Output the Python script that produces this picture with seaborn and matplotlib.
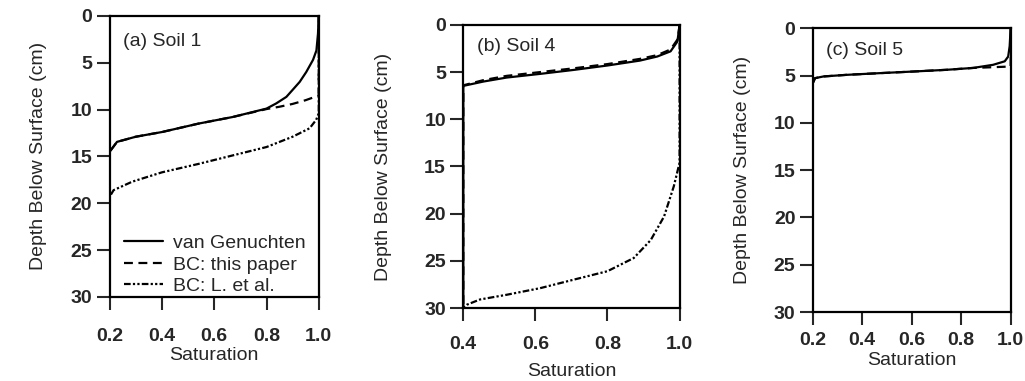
import numpy as np
import pandas as pd
import seaborn as sns
import matplotlib.pyplot as plt

# Soil 1
s1_vg_sat = [1.0, 0.997, 0.991, 0.978, 0.952, 0.927, 0.9, 0.876, 0.837, 0.8, 0.67, 0.54, 0.4, 0.3, 0.228, 0.2, 0.2]
s1_vg_depth = [0, 1.9, 3.7, 4.7, 6.0, 7.05, 7.9, 8.65, 9.35, 9.9, 10.8, 11.5, 12.4, 12.9, 13.45, 14.5, 30]
s1_bc_sat = [1.0, 1.0, 0.95, 0.9, 0.85, 0.8, 0.67, 0.54, 0.4, 0.3, 0.228, 0.2, 0.2]
s1_bc_depth = [0, 8.5, 9.0, 9.4, 9.7, 9.95, 10.8, 11.5, 12.4, 12.9, 13.45, 14.5, 30]
s1_le_sat = [1.0, 1.0, 0.99, 0.965, 0.9, 0.8, 0.67, 0.54, 0.4, 0.286, 0.215, 0.2, 0.2]
s1_le_depth = [0, 10.4, 11.1, 12.0, 12.9, 14.0, 14.9, 15.8, 16.7, 17.7, 18.6, 19.3, 30]

# Soil 4
s4_vg_sat = [1.0, 0.994, 0.975, 0.938, 0.89, 0.8, 0.706, 0.613, 0.52, 0.456, 0.4, 0.4]
s4_vg_depth = [0, 1.76, 2.8, 3.35, 3.78, 4.3, 4.77, 5.19, 5.58, 6.0, 6.46, 30]
s4_bc_sat = [1.0, 0.995, 0.975, 0.938, 0.89, 0.8, 0.706, 0.613, 0.52, 0.456, 0.4, 0.4]
s4_bc_depth = [0, 1.5, 2.6, 3.2, 3.6, 4.15, 4.6, 5.0, 5.4, 5.85, 6.4, 30]
s4_le_sat = [1.0, 1.0, 0.984, 0.957, 0.92, 0.873, 0.8, 0.706, 0.613, 0.52, 0.446, 0.41, 0.4]
s4_le_depth = [0, 14.6, 17.1, 20.3, 22.8, 24.7, 26.1, 27.0, 27.9, 28.6, 29.1, 29.65, 30]

# Soil 5
s5_vg_sat = [1.0, 0.996, 0.99, 0.976, 0.929, 0.848, 0.74, 0.606, 0.472, 0.337, 0.243, 0.209, 0.2, 0.2]
s5_vg_depth = [0, 1.9, 3.0, 3.5, 3.87, 4.2, 4.4, 4.58, 4.75, 4.93, 5.1, 5.28, 5.8, 30]
s5_bc_sat = [1.0, 1.0, 0.95, 0.9, 0.848, 0.74, 0.606, 0.472, 0.337, 0.243, 0.209, 0.2, 0.2]
s5_bc_depth = [0, 4.05, 4.1, 4.15, 4.2, 4.4, 4.58, 4.75, 4.93, 5.1, 5.28, 5.8, 30]

labels = ['van Genuchten', 'BC: this paper', 'BC: L. et al.']
styles = ['-', (0, (4, 2.5)), (0, (3, 1, 1, 1, 1, 1))]

# title, axes rect, xlim, xticks, x tick pad, x labelpad, y labelpad, title y, series
panels = [
    ('(a) Soil 1', [0.107, 0.2205, 0.204, 0.738], (0.2, 1.0), [0.2, 0.4, 0.6, 0.8, 1.0], 13, 1, 17, 0.907,
     [(s1_vg_sat, s1_vg_depth), (s1_bc_sat, s1_bc_depth), (s1_le_sat, s1_le_depth)]),
    ('(b) Soil 4', [0.452, 0.1916, 0.211, 0.743], (0.4, 1.0), [0.4, 0.6, 0.8, 1.0], 11, 7, 23, 0.922,
     [(s4_vg_sat, s4_vg_depth), (s4_bc_sat, s4_bc_depth), (s4_le_sat, s4_le_depth)]),
    ('(c) Soil 5', [0.793, 0.181, 0.193, 0.745], (0.2, 1.0), [0.2, 0.4, 0.6, 0.8, 1.0], 5, 2, 16, 0.923,
     [(s5_vg_sat, s5_vg_depth), (s5_bc_sat, s5_bc_depth)]),
]

sns.set_style('ticks')
plt.rcParams['font.family'] = ['Liberation Sans', 'DejaVu Sans']

fig = plt.figure(figsize=(10.25, 3.81), dpi=100)

for title, pos, xlim, xticks, xpad, xlpad, ylpad, ty, series in panels:
    ax = fig.add_axes(pos)
    for (sat, depth), lab, ls in zip(series, labels, styles):
        df = pd.DataFrame({'sat': sat, 'depth': depth})
        sns.lineplot(data=df, x='sat', y='depth', sort=False, estimator=None,
                     color='black', linewidth=1.6, linestyle=ls, label=lab, ax=ax,
                     legend=False)
    ax.set_xlim(*xlim)
    ax.set_ylim(30, 0)
    ax.set_xticks(xticks)
    ax.set_xticklabels([f'{t:.1f}' for t in xticks])
    ax.set_yticks([0, 5, 10, 15, 20, 25, 30])
    ax.tick_params(direction='out', length=9.5, width=1.5, labelsize=14)
    ax.tick_params(axis='x', pad=xpad)
    ax.tick_params(axis='y', pad=3)
    for lbl in ax.get_xticklabels() + ax.get_yticklabels():
        lbl.set_fontweight('bold')
    for sp in ax.spines.values():
        sp.set_visible(True)
        sp.set_linewidth(1.6)
        sp.set_color('black')
    ax.set_xlabel('Saturation', fontsize=14, labelpad=xlpad)
    ax.set_ylabel('Depth Below Surface (cm)', fontsize=14, labelpad=ylpad)
    ax.text(0.065, ty, title, transform=ax.transAxes, fontsize=14, va='center')
    if title.startswith('(a)'):
        ax.legend(handles=ax.lines[:3], labels=labels, loc='lower left',
                  bbox_to_anchor=(0.06, 0.0), frameon=False, fontsize=14,
                  handlelength=2.0, handletextpad=0.5, labelspacing=0.2,
                  borderpad=0.1, borderaxespad=0)

fig.savefig('out.png', dpi=100)
